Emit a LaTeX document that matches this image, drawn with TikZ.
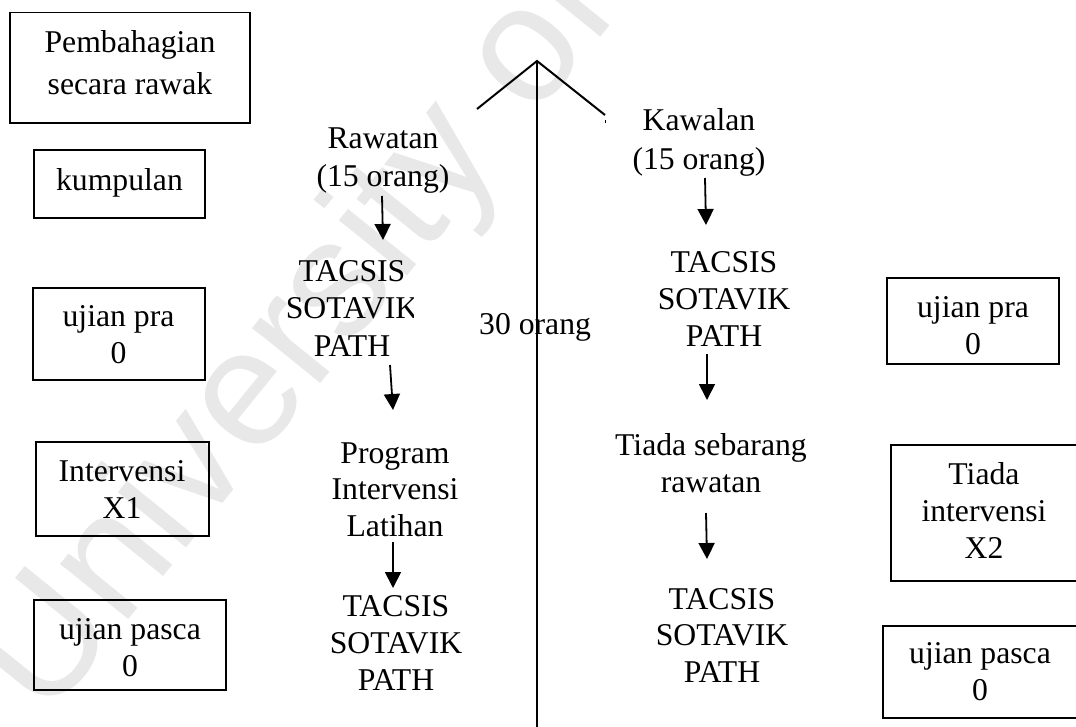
\documentclass[tikz,border=0pt]{standalone}
\usepackage{fontspec}
\setmainfont{Liberation Serif}
\newfontfamily\wmfont{Liberation Sans}
\usetikzlibrary{arrows.meta}
\tikzset{
  txt/.style={align=center, inner sep=0pt, anchor=base, font=\fontsize{31.7}{37}\selectfont},
  box/.style={draw, line width=1.3pt, inner sep=0pt},
  arr/.style={line width=1.8pt, -{Triangle[length=16pt,width=16pt]}},
  branch/.style={line width=2pt},
  stem/.style={line width=1.5pt}
}
\begin{document}
\begin{tikzpicture}[x=1pt,y=-1pt]
\fill[white] (0,0) rectangle (1076,726);
\useasboundingbox (0,0) rectangle (1076,726);
% watermark
\node[anchor=base west, rotate=51, inner sep=0pt, text=black!9,
      font=\wmfont\fontsize{166}{166}\selectfont] (wm) at (46,722) {University of Malaya};
% left boxes
\node[box, minimum width=240pt, minimum height=110.5pt] (b1) at (130,67.75) {};
\node[txt, font=\fontsize{31.7}{42}\selectfont] (b1t) at (130,94) {Pembahagian\\secara rawak};
\node[box, minimum width=171pt, minimum height=68pt] (kump) at (119.5,184) {};
\node[txt] (kumpt) at (119.5,190) {kumpulan};
\node[box, minimum width=172pt, minimum height=92pt] (prL) at (119,334) {};
\node[txt] (prLt) at (118.5,363) {ujian pra\\0};
\node[box, minimum width=173pt, minimum height=94pt] (intL) at (122.5,489) {};
\node[txt] (intLt) at (122,518) {Intervensi\\X1};
\node[box, minimum width=192pt, minimum height=90pt] (pascaL) at (130,645) {};
\node[txt] (pascaLt) at (130,676) {ujian pasca\\0};
% right boxes
\node[box, minimum width=172pt, minimum height=86pt] (prR) at (973,321) {};
\node[txt] (prRt) at (973,354) {ujian pra\\0};
\node[box, minimum width=190pt, minimum height=136pt] (intR) at (986,513) {};
\node[txt] (intRt) at (984,558) {Tiada\\intervensi\\X2};
\node[box, minimum width=200pt, minimum height=92pt] (pascaR) at (983,672) {};
\node[txt] (pascaRt) at (980,700) {ujian pasca\\0};
% centre split
\coordinate (apex) at (537,61);
\coordinate (lend) at (477,109);
\coordinate (rend) at (605,115);
\coordinate (bot) at (537,728);
\node[txt, anchor=base west] (thirty) at (479,334) {30 orang};
\draw[branch] (lend) -- (apex) -- (rend);
\draw[stem] (apex) -- (bot);
\coordinate (tick1) at (605,120);
\coordinate (tick2) at (605,123);
\draw[line width=1pt] (tick1) -- (tick2);
% left column
\node[txt, font=\fontsize{31.7}{38}\selectfont] (rawL) at (383,186) {Rawatan\\(15 orang)};
\begin{scope}
\clip (250,240) rectangle (413,380);
\node[txt, font=\fontsize{31.7}{37.5}\selectfont] (tacL1) at (352,356) {TACSIS\\SOTAVIK\\PATH};
\end{scope}
\node[txt, font=\fontsize{31.7}{36.5}\selectfont] (progL) at (395,536) {Program\\Intervensi\\Latihan};
\node[txt] (tacL2) at (396,690) {TACSIS\\SOTAVIK\\PATH};
\coordinate (a1s) at (382,196);
\coordinate (a1e) at (383,240);
\coordinate (a2s) at (390,365);
\coordinate (a2e) at (393,410);
\coordinate (a3s) at (393,542);
\coordinate (a3e) at (393,588);
\draw[arr] (a1s) -- (a1e);
\draw[arr] (a2s) -- (a2e);
\draw[arr] (a3s) -- (a3e);
% right column
\node[txt, font=\fontsize{31.7}{39}\selectfont] (kawR) at (699,169) {Kawalan\\(15 orang)};
\node[txt] (tacR1) at (724,346) {TACSIS\\SOTAVIK\\PATH};
\node[txt] (tiadaR) at (711,492) {Tiada sebarang\\rawatan};
\node[txt, font=\fontsize{31.7}{36.5}\selectfont] (tacR2) at (722,682) {TACSIS\\SOTAVIK\\PATH};
\coordinate (b1s) at (705,178);
\coordinate (b1e) at (706,225);
\coordinate (b2s) at (707,354);
\coordinate (b2e) at (707,400);
\coordinate (b3s) at (706,513);
\coordinate (b3e) at (707,559);
\draw[arr] (b1s) -- (b1e);
\draw[arr] (b2s) -- (b2e);
\draw[arr] (b3s) -- (b3e);
\end{tikzpicture}
\end{document}
